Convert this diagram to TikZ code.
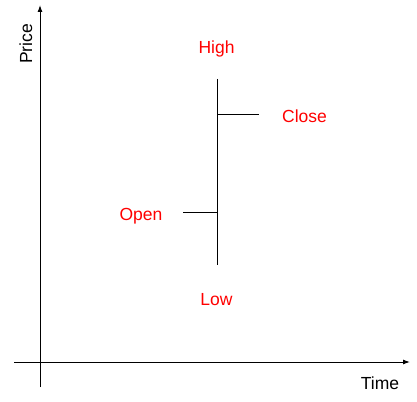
\documentclass[tikz,border=0pt]{standalone}
\usepackage{fontspec}
\setmainfont{Liberation Sans}
\usetikzlibrary{arrows.meta}
\usetikzlibrary{positioning}

\begin{document}
\begin{tikzpicture}[x=1pt,y=-1pt, line width=1pt,
	axis/.style={-{Latex[length=7pt,width=5pt]}},
	lbl/.style={font=\fontsize{17.5}{20}\selectfont, inner sep=0pt, anchor=base},
	price/.style={lbl, text=red}
	]
	\useasboundingbox (0,0) rectangle (417,401);
	% axes
	\coordinate (ybot) at (40,387);
	\coordinate (ytop) at (40,5);
	\coordinate (xleft) at (14,362);
	\coordinate (xright) at (410,362);
	\draw[axis] (ybot) -- (ytop);
	\draw[axis] (xleft) -- (xright);
	\node[lbl, rotate=90] (ylab) at (32,44) {Price};
	\node[lbl] (xlab) at (380,389) {Time};

	% the bar
	\coordinate (hi) at (217,79);
	\coordinate (lo) at (217,265);
	\coordinate (cl) at (217,114);
	\coordinate (op) at (217,212);
	\coordinate (clend) at (259,114);
	\coordinate (opend) at (183,212);
	\draw (hi) -- (lo);
	\draw (cl) -- (clend);
	\draw (opend) -- (op);

	\node[price] (high) at (216.5,54) {High};
	\node[price] (close) at (304.5,122) {Close};
	\node[price] (open) at (141,220) {Open};
	\node[price] (low) at (216.5,305) {Low};
\end{tikzpicture}
\end{document}
